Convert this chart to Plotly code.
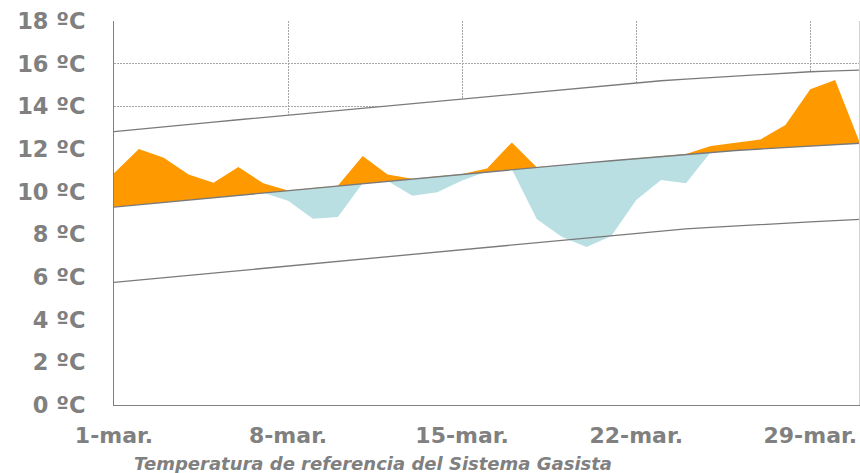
import plotly.graph_objects as go

days = list(range(1, 32))
tick_days = [1, 8, 15, 22, 29]
tick_labels = ["1-mar.", "8-mar.", "15-mar.", "22-mar.", "29-mar."]
y_ticks = [0, 2, 4, 6, 8, 10, 12, 14, 16, 18]

temp_max = [12.81, 12.93, 13.04, 13.15, 13.26, 13.37, 13.48, 13.59, 13.69, 13.80,
            13.91, 14.02, 14.13, 14.24, 14.35, 14.46, 14.57, 14.68, 14.79, 14.90,
            15.01, 15.12, 15.20, 15.28, 15.35, 15.42, 15.49, 15.56, 15.62, 15.66, 15.70]
temp_avg = [9.28, 9.39, 9.50, 9.61, 9.72, 9.84, 9.95, 10.06, 10.17, 10.28,
            10.39, 10.50, 10.61, 10.72, 10.83, 10.94, 11.05, 11.15, 11.25, 11.35,
            11.45, 11.55, 11.65, 11.76, 11.86, 11.93, 12.00, 12.06, 12.12, 12.20, 12.27]
temp_min = [5.75, 5.86, 5.97, 6.09, 6.20, 6.31, 6.42, 6.53, 6.64, 6.75,
            6.86, 6.97, 7.08, 7.19, 7.30, 7.41, 7.52, 7.63, 7.74, 7.85,
            7.96, 8.07, 8.17, 8.26, 8.33, 8.40, 8.46, 8.52, 8.58, 8.64, 8.70]
temp_real = [10.86, 12.00, 11.59, 10.81, 10.42, 11.16, 10.39, 9.58, 8.73, 8.81,
             11.67, 10.81, 9.81, 9.97, 10.52, 11.09, 12.31, 8.72, 7.89, 7.41,
             7.92, 9.61, 10.55, 10.39, 12.14, 12.30, 12.45, 13.12, 14.80, 15.23, 12.27]

lower_bound = [min(r, a) for r, a in zip(temp_real, temp_avg)]
upper_bound = [max(r, a) for r, a in zip(temp_real, temp_avg)]

GRAY = "#808080"
LINE = "#7a7a7a"
ORANGE = "#FF9900"
BLUE = "#B9DFE3"
GRID = "#a6a6a6"

fig = go.Figure()
# white area hiding gridlines below the max line
fig.add_trace(go.Scatter(x=days, y=temp_max, mode="lines", line=dict(width=0, color="white"),
                         fill="tozeroy", fillcolor="white", hoverinfo="skip", showlegend=False))
fig.add_trace(go.Scatter(x=days, y=lower_bound, mode="lines", line=dict(width=0, color=BLUE),
                         hoverinfo="skip", showlegend=False))
fig.add_trace(go.Scatter(x=days, y=temp_avg, mode="lines", line=dict(width=0, color=BLUE),
                         fill="tonexty", fillcolor=BLUE, showlegend=False))
fig.add_trace(go.Scatter(x=days, y=upper_bound, mode="lines", line=dict(width=0, color=ORANGE),
                         fill="tonexty", fillcolor=ORANGE, showlegend=False))
for series in (temp_max, temp_avg, temp_min):
    fig.add_trace(go.Scatter(x=days, y=series, mode="lines", line=dict(width=1.3, color=LINE),
                             showlegend=False))

fig.update_layout(
    width=860, height=473,
    margin=dict(l=114, r=0, t=21, b=68, autoexpand=False),
    paper_bgcolor="white", plot_bgcolor="white",
    font=dict(family="DejaVu Sans", color=GRAY, size=22, weight="bold"),
)
fig.update_xaxes(range=[1, 31], tickvals=tick_days, ticktext=tick_labels,
                 showgrid=True, gridcolor=GRID, griddash="2px,1px", gridwidth=1,
                 showline=True, linecolor=GRAY, linewidth=1, zeroline=False,
                 ticks="", ticklabelstandoff=11, automargin=False,
                 tickfont=dict(family="DejaVu Sans", size=22, color=GRAY, weight="bold"))
fig.update_yaxes(range=[0, 18], tickvals=y_ticks, ticktext=[f"{v} ºC" for v in y_ticks],
                 showgrid=True, gridcolor=GRID, griddash="2px,1px", gridwidth=1,
                 showline=True, linecolor=GRAY, linewidth=1, zeroline=False,
                 ticks="", ticklabelstandoff=23, automargin=False,
                 tickfont=dict(family="DejaVu Sans", size=22.5, color=GRAY, weight="bold"))
fig.add_shape(type="line", xref="paper", yref="paper", x0=0.9993, x1=0.9993, y0=0, y1=1,
              line=dict(color="#d0d0d0", width=1), layer="above")
fig.add_annotation(text="Temperatura de referencia del Sistema Gasista",
                   xref="paper", yref="paper", x=(373 - 114) / 746, y=(405 - 463) / 384,
                   xanchor="center", yanchor="middle", showarrow=False,
                   font=dict(family="DejaVu Sans", size=18, color=GRAY, weight="bold", style="italic"))

fig.write_html("out.html", config={"displayModeBar": False},
               post_script="document.body.style.margin='0';document.body.style.overflow='hidden';")
